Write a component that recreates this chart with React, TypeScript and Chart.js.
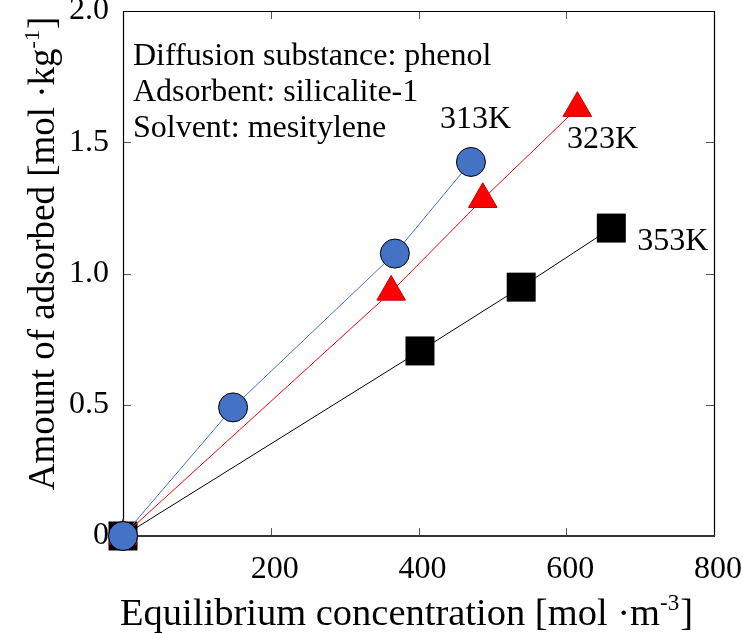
import React, { useEffect, useRef } from "react";
import { Chart, registerables } from "chart.js";

Chart.register(...registerables);

// ---- data ----
const seriesNames = ["313K", "323K", "353K"];
const x313 = [0, 149, 368, 471];
const y313 = [0, 0.49, 1.076, 1.425];
const x323 = [0, 363, 487, 615];
const y323 = [0, 0.93, 1.283, 1.63];
const x353 = [0, 402, 539, 661];
const y353 = [0, 0.705, 0.948, 1.173];

const xTicks = [0, 200, 400, 600, 800];
const yTicks = [0, 0.5, 1.0, 1.5, 2.0];

const infoLines = [
  "Diffusion substance: phenol",
  "Adsorbent: silicalite-1",
  "Solvent: mesitylene",
];
// label anchors in data units (x, baseline y)
const seriesLabelX = [429, 601, 696];
const seriesLabelY = [1.554, 1.478, 1.09];
const infoX = 13.5;
const infoY = [1.794, 1.657, 1.52];

const xTitleMain = "Equilibrium concentration [mol \u00B7m";
const xTitleSup = "-3";
const yTitleMain = "Amount of adsorbed [mol \u00B7kg";
const yTitleSup = "-1";
const titleTail = "]";

const FONT = "'Liberation Serif', 'Times New Roman', serif";

function pts(xs: number[], ys: number[]) {
  return xs.map((x, i) => ({ x, y: ys[i] }));
}

const decorPlugin = {
  id: "decor",
  beforeDatasetsDraw(chart: any) {
    const { ctx, chartArea } = chart;
    const xs = chart.scales.x;
    const ys = chart.scales.y;
    const { left, right, top, bottom } = chartArea;
    ctx.save();
    // ticks inward
    ctx.strokeStyle = "#555";
    ctx.lineWidth = 1;
    const tl = 8;
    xTicks.forEach((v) => {
      if (v === xs.min || v === xs.max) return;
      const px = Math.round(xs.getPixelForValue(v)) + 0.5;
      ctx.beginPath();
      ctx.moveTo(px, bottom);
      ctx.lineTo(px, bottom - tl);
      ctx.moveTo(px, top);
      ctx.lineTo(px, top + tl);
      ctx.stroke();
    });
    yTicks.forEach((v) => {
      if (v === ys.min || v === ys.max) return;
      const py = Math.round(ys.getPixelForValue(v)) + 0.5;
      ctx.beginPath();
      ctx.moveTo(left, py);
      ctx.lineTo(left + tl, py);
      ctx.moveTo(right, py);
      ctx.lineTo(right - tl, py);
      ctx.stroke();
    });
    // frame
    ctx.strokeStyle = "#000";
    ctx.lineWidth = 1.2;
    ctx.beginPath();
    ctx.moveTo(left + 0.5, bottom);
    ctx.lineTo(left + 0.5, top + 0.5);
    ctx.lineTo(right + 0.5, top + 0.5);
    ctx.lineTo(right + 0.5, bottom);
    ctx.stroke();
    ctx.strokeStyle = "#333";
    ctx.lineWidth = 2;
    ctx.beginPath();
    ctx.moveTo(left, bottom);
    ctx.lineTo(right + 1, bottom);
    ctx.stroke();
    ctx.restore();
  },
  afterDraw(chart: any) {
    const { ctx, chartArea } = chart;
    const xs = chart.scales.x;
    const ys = chart.scales.y;
    ctx.save();
    ctx.fillStyle = "#000";
    ctx.textBaseline = "alphabetic";
    ctx.textAlign = "left";
    // info text
    ctx.font = `32px ${FONT}`;
    infoLines.forEach((t, i) => {
      ctx.fillText(t, xs.getPixelForValue(infoX), ys.getPixelForValue(infoY[i]));
    });
    // series labels
    seriesNames.forEach((t, i) => {
      ctx.fillText(t, xs.getPixelForValue(seriesLabelX[i]), ys.getPixelForValue(seriesLabelY[i]));
    });

    const drawTitle = (main: string, sup: string, size: number, center: number, y0: number) => {
      const mainFont = `${size}px ${FONT}`;
      const supFont = `${Math.round(size * 0.6)}px ${FONT}`;
      ctx.font = mainFont;
      const a = ctx.measureText(main).width;
      const c = ctx.measureText(titleTail).width;
      ctx.font = supFont;
      const b = ctx.measureText(sup).width;
      const x0 = center - (a + b + c + 1) / 2;
      ctx.font = mainFont;
      ctx.fillText(main, x0, y0);
      ctx.font = supFont;
      ctx.fillText(sup, x0 + a, y0 - size * 0.4);
      ctx.font = mainFont;
      ctx.fillText(titleTail, x0 + a + b + 1, y0);
    };
    // x title
    const cx = (chartArea.left + chartArea.right) / 2 - 12;
    drawTitle(xTitleMain, xTitleSup, 38.5, cx, 625);
    // y title (rotated)
    const cy = (chartArea.top + chartArea.bottom) / 2 - 20;
    ctx.save();
    ctx.translate(54, cy);
    ctx.rotate(-Math.PI / 2);
    drawTitle(yTitleMain, yTitleSup, 37, 0, 0);
    ctx.restore();
    ctx.restore();
  },
};

export default function App() {
  const ref = useRef<HTMLCanvasElement | null>(null);
  useEffect(() => {
    if (!ref.current) return;
    const chart = new Chart(ref.current, {
      type: "scatter",
      data: {
        datasets: [
          {
            label: seriesNames[0],
            data: pts(x313, y313),
            showLine: true,
            borderColor: "#4472C4",
            borderWidth: 1,
            pointStyle: "circle",
            pointRadius: 14.5,
            pointBackgroundColor: "#4472C4",
            pointBorderColor: "#000",
            pointBorderWidth: 1,
            clip: false,
          },
          {
            label: seriesNames[1],
            data: pts(x323, y323),
            showLine: true,
            borderColor: "#FF0000",
            borderWidth: 1,
            pointStyle: "triangle",
            pointRadius: 16.5,
            pointBackgroundColor: "#FF0000",
            pointBorderColor: "#C00000",
            pointBorderWidth: 1,
            clip: false,
          },
          {
            label: seriesNames[2],
            data: pts(x353, y353),
            showLine: true,
            borderColor: "#000000",
            borderWidth: 1,
            pointStyle: "rect",
            pointRadius: 20.5,
            pointBackgroundColor: "#000000",
            pointBorderColor: "#000000",
            pointBorderWidth: 0,
            clip: false,
          },
        ],
      },
      options: {
        responsive: false,
        animation: false,
        devicePixelRatio: 1,
        layout: { autoPadding: false, padding: { left: 0, right: 29, top: 11, bottom: 0 } },
        plugins: {
          legend: { display: false },
          tooltip: { enabled: false },
        },
        scales: {
          x: {
            type: "linear",
            min: 0,
            max: 800,
            grid: { display: false },
            border: { display: false },
            afterBuildTicks: (s: any) => {
              s.ticks = xTicks.map((v) => ({ value: v }));
            },
            afterFit: (s: any) => {
              s.height = 97;
              s.paddingLeft = 0;
              s.paddingRight = 0;
            },
            ticks: {
              padding: 6,
              labelOffset: 4,
              color: "#000",
              maxRotation: 0,
              autoSkip: false,
              font: { family: FONT, size: 32 },
              callback: (v: any) => (v === 0 ? "" : String(v)),
            },
          },
          y: {
            type: "linear",
            min: 0,
            max: 2,
            grid: { display: false },
            border: { display: false },
            afterBuildTicks: (s: any) => {
              s.ticks = yTicks.map((v) => ({ value: v }));
            },
            afterFit: (s: any) => {
              s.width = 123;
              s.paddingTop = 0;
              s.paddingBottom = 0;
            },
            ticks: {
              padding: 6,
              color: "#000",
              autoSkip: false,
              font: { family: FONT, size: 32, lineHeight: 0.6 },
              callback: (v: any) => (v === 0 ? "0" : Number(v).toFixed(1)),
            },
          },
        },
      },
      plugins: [decorPlugin],
    });
    return () => chart.destroy();
  }, []);
  return (
    <div style={{ position: "fixed", left: 0, top: 0, width: 743, height: 633, background: "#fff" }}>
      <canvas ref={ref} width={743} height={633} />
    </div>
  );
}
